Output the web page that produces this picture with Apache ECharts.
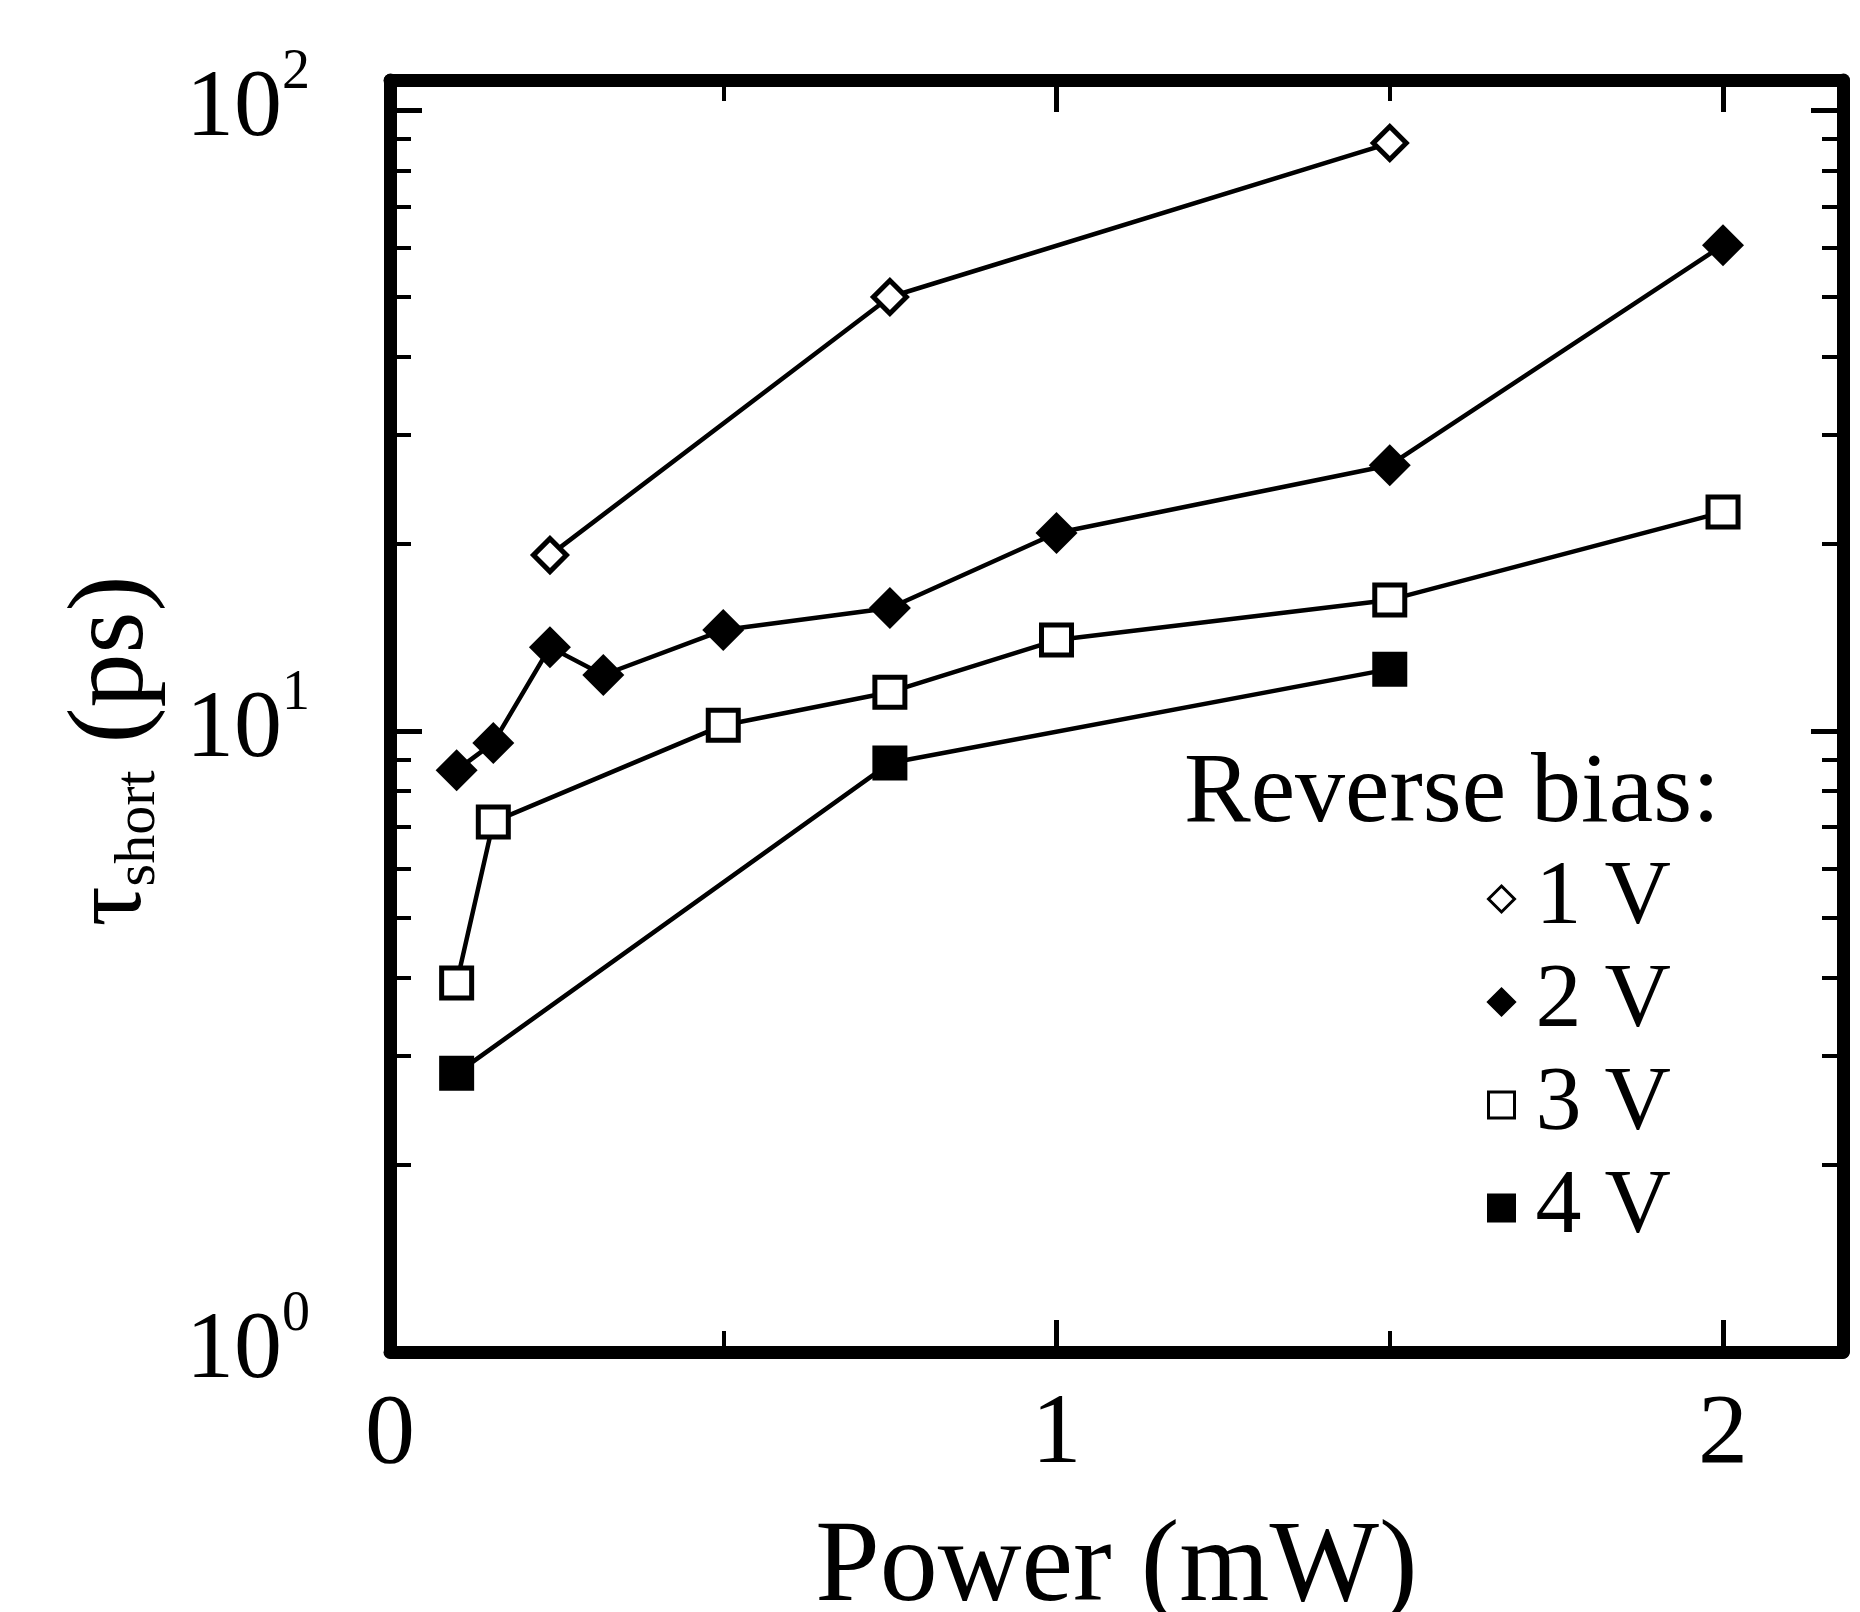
<!DOCTYPE html>
<html>
<head>
<meta charset="utf-8">
<script src="https://cdn.jsdelivr.net/npm/echarts@6/dist/echarts.min.js"></script>
<style>
  html, body { margin: 0; padding: 0; background: #fff; }
  #chart { width: 1860px; height: 1612px; }
</style>
</head>
<body>
<div id="chart"></div>
<script>
// data: power (mW) vs tau_short (ps)
const power1V = [0.24, 0.75, 1.5];
const tau1V = [19.2, 50.0, 88.5];

const power2V = [0.1, 0.155, 0.24, 0.32, 0.5, 0.75, 1.0, 1.5, 2.0];
const tau2V = [8.65, 9.57, 13.65, 12.31, 14.54, 15.78, 20.84, 26.8, 60.6];

const power3V = [0.1, 0.155, 0.5, 0.75, 1.0, 1.5, 2.0];
const tau3V = [3.93, 7.14, 10.22, 11.55, 14.01, 16.26, 22.52];

const power4V = [0.1, 0.75, 1.5];
const tau4V = [2.81, 8.88, 12.58];

const seriesNames = ['1 V', '2 V', '3 V', '4 V'];

const xTickLabels = [0, 1, 2];
const xMinorTicks = [0.5, 1.5];
const yTickLabels = [1, 10, 100];
const yMinorTicks = [2, 3, 4, 5, 6, 7, 8, 9, 20, 30, 40, 50, 60, 70, 80, 90];

const X_MAX = 2.18;
const Y_MAX = 111.8;
const serif = "'Liberation Serif', 'Times New Roman', serif";

const pairs = (xs, ys) => xs.map((x, i) => [x, ys[i]]);

const chart = echarts.init(document.getElementById('chart'));

const frameLine = { show: true, onZero: false, lineStyle: { color: '#000', width: 13 } };
const hiddenLine = { show: false, onZero: false };
const majorTick = { show: true, inside: true, length: 32, lineStyle: { color: '#000', width: 5 } };
const minorTick = (vals) => ({ show: true, inside: true, length: 21, customValues: vals, lineStyle: { color: '#000', width: 4 } });
const noLabel = { show: false };
const noSplit = { show: false };

const isPow10 = (v) => {
    const e = Math.log10(v);
    return Math.abs(e - Math.round(e)) < 1e-6;
};

// fixed plot box, labels may sit outside it
const gridRect = { left: 390, right: 17, top: 80, bottom: 260, containLabel: false, outerBoundsMode: 'none' };

// minor tick axes live on a second grid drawn over the first, in log10 space
const logMinor = yMinorTicks.map(v => Math.log10(v));
const logMax = Math.log10(Y_MAX);

chart.setOption({
    animation: false,
    backgroundColor: '#fff',
    title: {
        text: 'Reverse bias:',
        left: 1184,
        top: 745,
        padding: 0,
        textStyle: { fontFamily: serif, fontSize: 100, fontWeight: 'normal', color: '#000' }
    },
    legend: {
        orient: 'vertical',
        left: 1487,
        top: 853,
        padding: 0,
        itemGap: 11,
        itemWidth: 26,
        itemHeight: 26,
        selectedMode: false,
        itemStyle: { borderWidth: 3 },
        textStyle: { fontFamily: serif, fontSize: 92, lineHeight: 90, color: '#000', padding: [0, 0, 0, 16] },
        data: [
            { name: seriesNames[0], icon: 'diamond' },
            { name: seriesNames[1], icon: 'diamond' },
            { name: seriesNames[2], icon: 'rect' },
            { name: seriesNames[3], icon: 'rect' }
        ]
    },
    grid: [
        Object.assign({}, gridRect),
        Object.assign({}, gridRect)
    ],
    xAxis: [
        {
            type: 'value', gridIndex: 0, position: 'bottom',
            min: 0, max: X_MAX, interval: 1,
            axisLine: frameLine,
            axisTick: Object.assign({ customValues: xTickLabels }, majorTick),
            axisLabel: { customValues: xTickLabels, margin: 34, fontFamily: serif, fontSize: 100, color: '#000' },
            splitLine: noSplit,
            name: 'Power (mW)', nameLocation: 'middle', nameGap: 160,
            nameTextStyle: { fontFamily: serif, fontSize: 116, color: '#000' }
        },
        {
            type: 'value', gridIndex: 0, position: 'top',
            min: 0, max: X_MAX, interval: 1,
            axisLine: frameLine,
            axisTick: Object.assign({ customValues: xTickLabels }, majorTick),
            axisLabel: noLabel, splitLine: noSplit
        },
        {
            type: 'value', gridIndex: 1, position: 'bottom',
            min: 0, max: X_MAX,
            axisLine: hiddenLine, axisTick: minorTick(xMinorTicks),
            axisLabel: noLabel, splitLine: noSplit
        },
        {
            type: 'value', gridIndex: 1, position: 'top',
            min: 0, max: X_MAX,
            axisLine: hiddenLine, axisTick: minorTick(xMinorTicks),
            axisLabel: noLabel, splitLine: noSplit
        }
    ],
    yAxis: [
        {
            type: 'log', logBase: 10, gridIndex: 0, position: 'left',
            min: 1, max: Y_MAX,
            axisLine: frameLine,
            axisTick: majorTick,
            axisLabel: {
                margin: 80,
                color: '#000',
                formatter: (v) => isPow10(v) ? '{b|10}{s|' + Math.round(Math.log10(v)) + '}' : '',
                rich: {
                    b: { fontFamily: serif, fontSize: 96, lineHeight: 96, color: '#000' },
                    s: { fontFamily: serif, fontSize: 56, lineHeight: 56, padding: [0, 0, 74, 0], color: '#000' }
                }
            },
            splitLine: noSplit,
            name: '{t|τ}{s|short}{p| (ps)}',
            nameLocation: 'middle', nameRotate: 90, nameGap: 222,
            nameTextStyle: {
                color: '#000',
                padding: [0, 70, 0, 0],
                rich: {
                    t: { fontFamily: serif, fontSize: 100, lineHeight: 108, color: '#000' },
                    s: { fontFamily: serif, fontSize: 58, lineHeight: 58, verticalAlign: 'bottom', padding: [10, 0, 0, 0], color: '#000' },
                    p: { fontFamily: serif, fontSize: 108, lineHeight: 108, color: '#000' }
                }
            }
        },
        {
            type: 'log', logBase: 10, gridIndex: 0, position: 'right',
            min: 1, max: Y_MAX,
            axisLine: frameLine, axisTick: majorTick,
            axisLabel: noLabel, splitLine: noSplit
        },
        {
            type: 'value', gridIndex: 1, position: 'left',
            min: 0, max: logMax,
            axisLine: hiddenLine, axisTick: minorTick(logMinor),
            axisLabel: noLabel, splitLine: noSplit
        },
        {
            type: 'value', gridIndex: 1, position: 'right',
            min: 0, max: logMax,
            axisLine: hiddenLine, axisTick: minorTick(logMinor),
            axisLabel: noLabel, splitLine: noSplit
        }
    ],
    series: [
        {
            name: seriesNames[0], type: 'line', xAxisIndex: 0, yAxisIndex: 0,
            data: pairs(power1V, tau1V),
            symbol: 'diamond', symbolSize: 33,
            lineStyle: { color: '#000', width: 4.5 },
            itemStyle: { color: '#fff', borderColor: '#000', borderWidth: 5 }
        },
        {
            name: seriesNames[1], type: 'line', xAxisIndex: 0, yAxisIndex: 0,
            data: pairs(power2V, tau2V),
            symbol: 'diamond', symbolSize: 42,
            lineStyle: { color: '#000', width: 4.5 },
            itemStyle: { color: '#000', borderColor: '#000', borderWidth: 0 }
        },
        {
            name: seriesNames[2], type: 'line', xAxisIndex: 0, yAxisIndex: 0,
            data: pairs(power3V, tau3V),
            symbol: 'rect', symbolSize: 30,
            lineStyle: { color: '#000', width: 4.5 },
            itemStyle: { color: '#fff', borderColor: '#000', borderWidth: 5 }
        },
        {
            name: seriesNames[3], type: 'line', xAxisIndex: 0, yAxisIndex: 0,
            data: pairs(power4V, tau4V),
            symbol: 'rect', symbolSize: 35,
            lineStyle: { color: '#000', width: 4.5 },
            itemStyle: { color: '#000', borderColor: '#000', borderWidth: 0 }
        }
    ]
});
</script>
</body>
</html>
